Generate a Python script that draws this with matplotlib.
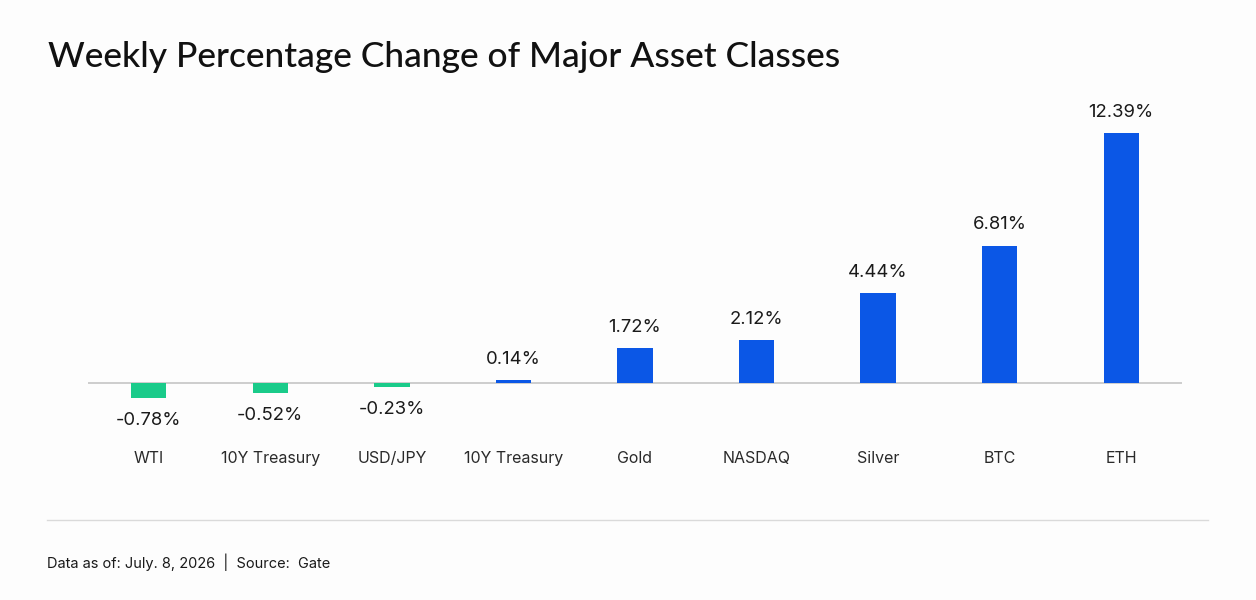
import matplotlib.pyplot as plt
from matplotlib.lines import Line2D
from matplotlib.transforms import offset_copy

# data
assets = ["WTI", "10Y Treasury", "USD/JPY", "10Y Treasury", "Gold",
          "NASDAQ", "Silver", "BTC", "ETH"]
changes = [-0.78, -0.52, -0.23, 0.14, 1.72, 2.12, 4.44, 6.81, 12.39]
title = "Weekly Percentage Change of Major Asset Classes"
footer = "Data as of: July. 8, 2026  |  Source:  Gate"

green = "#1ACB8A"
blue = "#0B57E6"
text_font = ["Inter", "DejaVu Sans"]

fig = plt.figure(figsize=(12.56, 6), dpi=100, facecolor="#FDFDFD")
W, H = 1256, 600

# axes placed so baseline / bars line up with the reference
ax = fig.add_axes([88 / W, 1 - 439 / H, (1182 - 88) / W, (439 - 111) / H])
ax.set_facecolor("none")
ax.set_xlim(-0.5, len(assets) - 0.5)
ax.set_ylim(-2.8, 13.5)

x = range(len(assets))
colors = [green if v < 0 else blue for v in changes]
ax.bar(x, changes, width=0.29, color=colors, zorder=2)
ax.axhline(0, color="#C9C9C9", lw=1.3, zorder=1)

for i, v in enumerate(changes):
    dy = -16 if v < 0 else 15
    ax.annotate(f"{v:.2f}%", (i, v), xytext=(0, dy), textcoords="offset points",
                ha="center", va="center", fontsize=13.3, color="#1a1a1a",
                family=text_font)

ax.set_xticks(list(x))
ax.set_xticklabels(assets, fontsize=11.5, color="#2a2a2a", family=text_font)
ax.tick_params(axis="x", length=0, pad=0)
ax.set_yticks([])
for s in ax.spines.values():
    s.set_visible(False)

# move tick labels to the reference row
for lbl in ax.get_xticklabels():
    lbl.set_transform(offset_copy(lbl.get_transform(), fig=fig, x=0, y=-8.6, units="points"))

fig.text(48 / W, 1 - 57 / H, title, fontsize=25.5, family=["Lato", "DejaVu Sans"],
         weight="medium", ha="left", va="center", color="#111111")

fig.add_artist(Line2D([47 / W, 1208 / W], [1 - 520 / H, 1 - 520 / H],
                      color="#DADADA", lw=1.0))
fig.text(47 / W, 1 - 562 / H, footer, fontsize=10.5, family=text_font,
         ha="left", va="center", color="#1a1a1a")

fig.savefig("out.png", dpi=100, facecolor=fig.get_facecolor())
